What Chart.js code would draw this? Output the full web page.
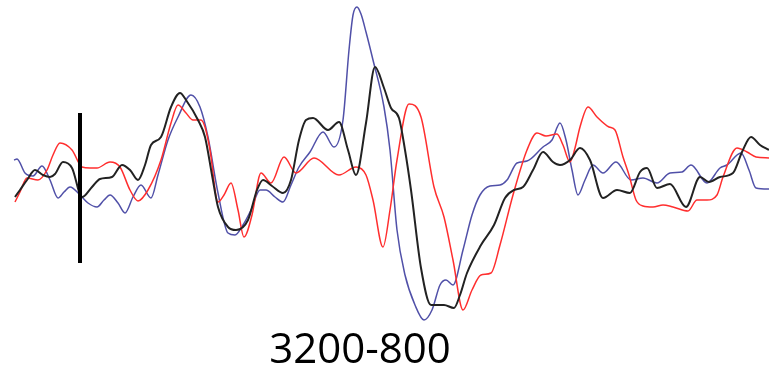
<!DOCTYPE html>
<html>
<head>
<meta charset="utf-8">
<script src="https://cdn.jsdelivr.net/npm/chart.js@4/dist/chart.umd.min.js"></script>
<style>
    html, body { margin: 0; padding: 0; background: #fff; }
    #wrap { width: 769px; height: 368px; position: relative; }
</style>
</head>
<body>
<div id="wrap"><canvas id="erp"></canvas></div>
<script>
// sample positions and amplitudes for each trace
const blueT = [14, 17, 25, 33, 42, 50, 58, 64, 70, 80, 88, 97, 104, 110, 118, 125, 133, 141, 151, 158, 168, 178, 191, 200, 208, 218, 228, 235, 243, 251, 260, 266, 275, 283, 291, 299, 310, 323, 334, 343, 349, 353, 357, 361, 366, 373, 384, 390, 397, 405, 415, 424, 432, 440, 446, 453, 463, 472, 480, 490, 500, 507, 517, 527, 543, 552, 560, 566, 572, 578, 585, 593, 603, 616, 631, 643, 657, 670, 682, 691, 707, 720, 727, 741, 749, 756, 769];
const blueV = [40, 41, 27, 24, 34, 20, 2, 8, 13, 5, -3, -7, 0, 5, -3, -13, 3, 15, 2, 25, 60, 83, 105, 93, 63, 7, -33, -35, -25, -10, 10, 10, 3, -2, 15, 33, 48, 68, 53, 80, 150, 185, 193, 186, 168, 140, 93, 50, -30, -75, -105, -120, -110, -85, -80, -85, -50, -15, 5, 14, 15, 20, 37, 39, 53, 60, 77, 60, 30, 5, 20, 35, 27, 38, 20, 22, 17, 27, 28, 35, 17, 32, 35, 47, 30, 12, 11];

const blackT = [15, 20, 27, 35, 43, 50, 55, 63, 72, 82, 92, 100, 112, 122, 130, 138, 145, 151, 161, 171, 180, 186, 198, 205, 212, 218, 228, 236, 248, 257, 263, 272, 283, 291, 299, 306, 313, 328, 339, 348, 356, 366, 375, 384, 391, 399, 405, 411, 421, 431, 444, 454, 460, 467, 481, 494, 505, 514, 523, 533, 543, 553, 560, 570, 580, 590, 603, 617, 630, 640, 647, 657, 670, 686, 700, 709, 720, 733, 742, 751, 760, 769];
const blackV = [3, 10, 20, 30, 25, 23, 26, 38, 32, 3, 13, 21, 23, 35, 30, 20, 35, 55, 63, 93, 107, 100, 80, 63, 25, -7, -27, -30, -20, 10, 20, 14, 7, 20, 60, 80, 82, 70, 78, 50, 25, 77, 133, 112, 92, 82, 50, 10, -68, -105, -105, -108, -95, -73, -45, -25, 2, 10, 13, 30, 48, 38, 35, 40, 52, 40, 2, 10, 7, 28, 32, 12, 16, -7, 23, 18, 23, 27, 48, 63, 55, 50];

const redT = [15, 20, 27, 38, 47, 53, 60, 72, 82, 90, 97, 110, 120, 130, 138, 148, 161, 171, 178, 186, 193, 201, 205, 210, 218, 224, 231, 238, 244, 252, 261, 271, 284, 296, 314, 339, 356, 366, 373, 383, 390, 397, 409, 421, 434, 444, 453, 463, 472, 481, 491, 500, 513, 527, 537, 546, 557, 563, 570, 575, 580, 588, 597, 609, 615, 623, 629, 636, 643, 653, 663, 673, 688, 697, 707, 717, 723, 737, 747, 756, 769];
const redV = [-2, 8, 22, 20, 30, 45, 57, 50, 33, 32, 32, 38, 33, 10, -1, 10, 40, 77, 95, 87, 80, 80, 73, 50, -2, 5, 17, -10, -37, -15, 27, 17, 43, 27, 42, 25, 33, 25, 0, -47, -10, 40, 96, 83, 13, -17, -60, -110, -90, -75, -73, -45, 5, 50, 67, 64, 66, 55, 38, 52, 73, 93, 83, 73, 70, 43, 25, 0, -6, -7, -5, -7, -11, 0, 0, 5, 23, 52, 48, 43, 42];

// stimulus onset marker
const markerT = [80, 80];
const markerV = [87, -63];

const caption = '3200-800';

const toPoints = (ts, vs) => ts.map((t, i) => ({ x: t, y: vs[i] }));

const captionPlugin = {
    id: 'caption',
    afterDraw(chart) {
        const { ctx, scales } = chart;
        ctx.save();
        ctx.fillStyle = '#000';
        ctx.font = '42px "Open Sans", "Liberation Sans", sans-serif';
        ctx.textAlign = 'center';
        ctx.textBaseline = 'alphabetic';
        ctx.fillText(caption, scales.x.getPixelForValue(360), scales.y.getPixelForValue(-163));
        ctx.restore();
    }
};

const trace = (data, color, width, order) => ({
    data,
    borderColor: color,
    borderWidth: width,
    pointRadius: 0,
    fill: false,
    cubicInterpolationMode: 'monotone',
    clip: false,
    order,
});

new Chart(document.getElementById('erp'), {
    type: 'line',
    data: {
        datasets: [
            trace(toPoints(markerT, markerV), '#000000', 4, 0),
            trace(toPoints(blackT, blackV), '#222222', 2, 1),
            trace(toPoints(redT, redV), '#ff2e2e', 1.5, 2),
            trace(toPoints(blueT, blueV), '#5050a8', 1.5, 3),
        ]
    },
    options: {
        responsive: true,
        maintainAspectRatio: false,
        animation: false,
        layout: { padding: 0 },
        plugins: {
            legend: { display: false },
            tooltip: { enabled: false },
        },
        scales: {
            x: { type: 'linear', min: 0, max: 769, display: false },
            y: { type: 'linear', min: -168, max: 200, display: false },
        }
    },
    plugins: [captionPlugin]
});
</script>
</body>
</html>
